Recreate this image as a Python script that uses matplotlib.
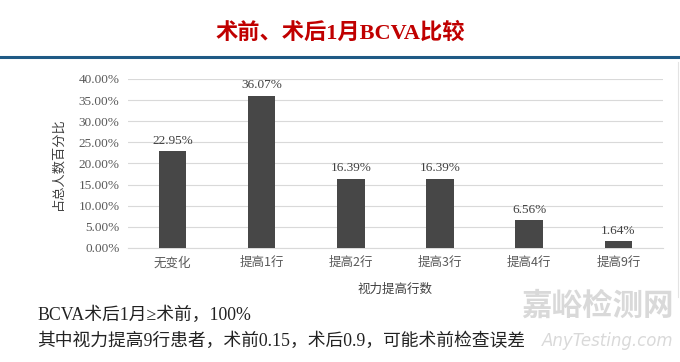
import matplotlib.pyplot as plt
from matplotlib.lines import Line2D

categories = ["无变化", "提高1行", "提高2行", "提高3行", "提高4行", "提高9行"]
values = [22.95, 36.07, 16.39, 16.39, 6.56, 1.64]
yticks = [0, 5, 10, 15, 20, 25, 30, 35, 40]

cjk = ["Noto Sans CJK SC", "DejaVu Sans"]
mixed = ["Liberation Serif", "Noto Sans CJK SC"]

fig = plt.figure(figsize=(6.8, 3.62), dpi=100)
ax = fig.add_axes([0.188, 0.315, 0.787, 0.467])

x = range(len(categories))
ax.bar(x, values, width=0.31, color="#474747", zorder=3)
for xi, v in zip(x, values):
    ax.text(xi, v + 1.0, "%.2f%%" % v, ha="center", va="bottom",
            fontsize=9.5, color="#404040", family=mixed)

ax.set_xlim(-0.5, 5.5)
ax.set_ylim(0, 40)
ax.set_yticks(yticks)
ax.set_yticklabels(["%.2f%%" % t for t in yticks], family=mixed, fontsize=9.5, color="#595959")
ax.set_xticks(list(x))
ax.set_xticklabels(categories, family=cjk, fontsize=9, color="#595959")
ax.grid(axis="y", color="#d9d9d9", linewidth=0.8, zorder=0)
ax.tick_params(length=0, pad=6)
for s in ["top", "right", "left"]:
    ax.spines[s].set_visible(False)
ax.spines["bottom"].set_color("#d9d9d9")
ax.set_xlabel("视力提高行数", family=cjk, fontsize=9, color="#404040", labelpad=10)
ax.set_ylabel("占总人数百分比", family=cjk, fontsize=9.5, color="#404040", labelpad=10)

# title and header rule
fig.text(0.5, 0.908, "术前、术后1月BCVA比较", ha="center", va="center",
         fontsize=16, color="#C00000", family=mixed, fontweight="bold")
fig.add_artist(Line2D([0, 1], [0.842, 0.842], color="#1f5a85", linewidth=2.2))
fig.add_artist(Line2D([0.997, 0.997], [0.83, 0.18], color="#e3e3e3", linewidth=0.8))

# notes below chart
fig.text(0.055, 0.13, "BCVA术后1月≥术前，100%", ha="left", va="center",
         fontsize=12.8, color="#222222", family=mixed)
fig.text(0.055, 0.058, "其中视力提高9行患者，术前0.15，术后0.9，可能术前检查误差",
         ha="left", va="center", fontsize=12.8, color="#222222", family=mixed)

# watermark
fig.text(0.99, 0.155, "嘉峪检测网", ha="right", va="center", fontsize=22,
         color="#d0d0d0", family=cjk, fontweight="bold", alpha=0.8)
fig.text(0.99, 0.058, "AnyTesting.com", ha="right", va="center", fontsize=12,
         color="#d0d0d0", family="DejaVu Sans", style="italic", alpha=0.8)

fig.savefig("out.png", dpi=100)
